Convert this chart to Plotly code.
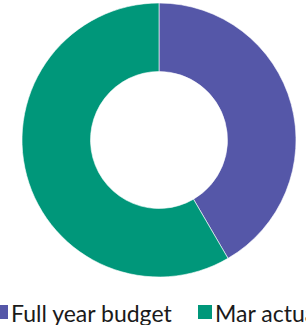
import plotly.graph_objects as go

labels = ["Full year budget", "Mar actual"]
values = [41.6, 58.4]
colors = ["#5557A8", "#00977A"]

W, H = 306, 325
ml, mr, mt, mb = 22, 10, 3, 48
pw, ph = W - ml - mr, H - mt - mb

def px_x(p):
    return (p - ml) / pw

def px_y(p):
    return 1 - (p - mt) / ph

fig = go.Figure(go.Pie(
    labels=labels, values=values, hole=0.5, sort=False,
    direction="clockwise", rotation=0, textinfo="none",
    marker=dict(colors=colors, line=dict(color="white", width=0.6)),
    showlegend=False,
))

# legend drawn manually (it is wider than the chart and is clipped in the reference)
sq_left = [-6, 198]
txt_left = [9, 213]
shapes, annos = [], []
for i, lab in enumerate(labels):
    shapes.append(dict(type="rect", xref="paper", yref="paper",
                       x0=px_x(sq_left[i]), x1=px_x(sq_left[i] + 14),
                       y0=px_y(319), y1=px_y(305),
                       fillcolor=colors[i], line=dict(width=0)))
    annos.append(dict(text=lab, xref="paper", yref="paper",
                      x=px_x(txt_left[i]), y=px_y(313), xanchor="left", yanchor="middle",
                      showarrow=False, font=dict(family="Lato", size=23, color="#1a1a1a")))

fig.update_layout(
    width=W, height=H, margin=dict(l=ml, r=mr, t=mt, b=mb),
    paper_bgcolor="white", plot_bgcolor="white",
    shapes=shapes, annotations=annos,
)
fig.write_html("out.html", config={"displayModeBar": False},
               post_script="document.body.style.margin='0';")
